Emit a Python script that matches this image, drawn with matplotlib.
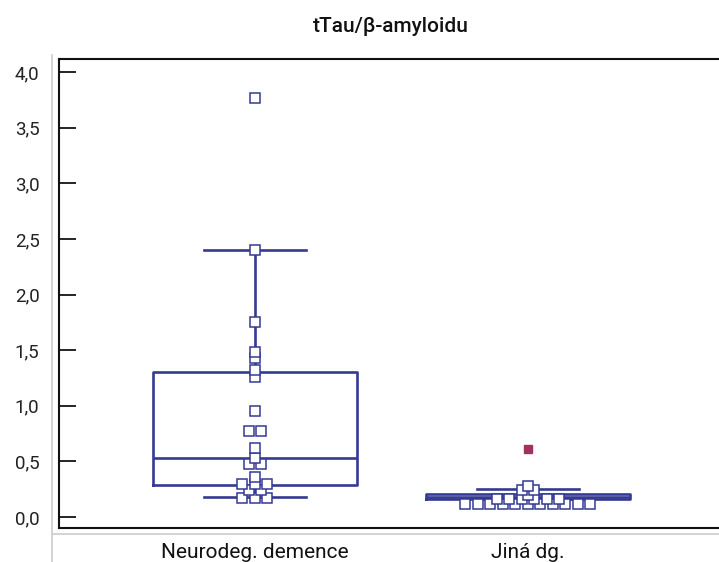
import numpy as np
import matplotlib.pyplot as plt
from matplotlib.lines import Line2D

plt.rcParams['font.family'] = ['Roboto', 'DejaVu Sans']

## data
groups = ['Neurodeg. demence', 'Jiná dg.']
vals_neuro = [3.77, 2.40, 1.75, 1.48, 1.43, 1.32, 1.26, 0.95, 0.77, 0.77, 0.62,
              0.53, 0.48, 0.48, 0.36, 0.30, 0.30, 0.30, 0.24, 0.24, 0.17, 0.17, 0.17]
vals_other = [0.12] * 11 + [0.165] * 6 + [0.20, 0.24, 0.24, 0.28]
outliers_other = [0.61]

# box statistics (q1, median, q3, whiskers) as drawn
q1 = [0.29, 0.16]
med = [0.53, 0.18]
q3 = [1.30, 0.205]
whislo = [0.18, 0.16]
whishi = [2.40, 0.25]

yticks = [0.0, 0.5, 1.0, 1.5, 2.0, 2.5, 3.0, 3.5, 4.0]

navy = '#343a93'
crimson = '#a3305f'

fig = plt.figure(figsize=(7.19, 5.62), dpi=100)
ax = fig.add_axes([0.082, 0.0605, 0.918, 0.8345])

stats = []
for i in range(2):
    stats.append(dict(q1=q1[i], med=med[i], q3=q3[i], whislo=whislo[i],
                      whishi=whishi[i], fliers=[]))
lp = dict(color=navy, linewidth=1.9)
ax.bxp(stats, positions=[1, 2], widths=0.75, capwidths=0.375,
       boxprops=lp, medianprops=lp, whiskerprops=lp, capprops=lp,
       showfliers=False, manage_ticks=False, zorder=2)

# dot rows: equal values spread symmetrically
step = 12.5 / 273.0
for pos, vals in zip([1, 2], [vals_neuro, vals_other]):
    xs, ys = [], []
    for v in sorted(set(vals)):
        n = vals.count(v)
        offs = (np.arange(n) - (n - 1) / 2.0) * step
        xs.extend(pos + offs)
        ys.extend([v] * n)
    ax.plot(xs, ys, 's', ms=6.5, mfc='white', mec=navy, mew=1.1,
            ls='none', zorder=3)

ax.plot([2] * len(outliers_other), outliers_other, 's', ms=6, mfc=crimson,
        mec=crimson, ls='none', zorder=3)

ax.set_xlim(0.282, 2.70)
ax.set_ylim(-0.099, 4.117)
ax.set_yticks(yticks)
ax.set_yticklabels([('%.1f' % t).replace('.', ',') for t in yticks],
                   fontsize=13.5, color='#222222')
ax.tick_params(axis='y', direction='in', length=12, width=1.2, pad=14)
ax.set_xticks([1, 2])
ax.set_xticklabels(groups, fontsize=15, color='#111111')
ax.tick_params(axis='x', length=0, pad=11)

for s in ['left', 'bottom', 'top']:
    ax.spines[s].set_linewidth(1.5)
    ax.spines[s].set_color('#111111')
ax.spines['right'].set_visible(False)

fig.text(0.543, 0.952, 'tTau/β-amyloidu', ha='center', va='center',
         fontsize=15, fontweight='medium', color='#111111')

# light outer frame lines of the original export
fig.add_artist(Line2D([52 / 719, 52 / 719], [0, 1 - 55 / 562],
                      color='#cccccc', lw=1.2))
fig.add_artist(Line2D([52 / 719, 1], [1 - 534 / 562, 1 - 534 / 562],
                      color='#cccccc', lw=1.2))

fig.savefig('out.png', dpi=100)
